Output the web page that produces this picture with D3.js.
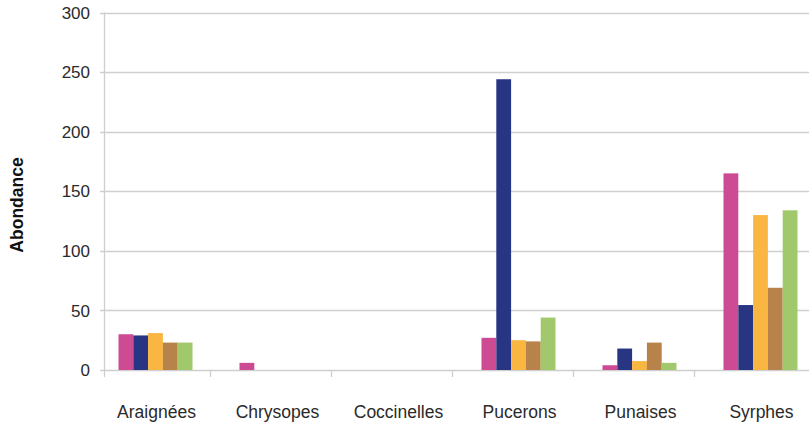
<!DOCTYPE html>
<html><head><meta charset="utf-8">
<script src="https://cdn.jsdelivr.net/npm/d3@7"></script>
<style>html,body{margin:0;padding:0;background:#fff;}svg{display:block;}</style>
</head><body><svg id="c" width="809" height="425"></svg>
<script>
const categories = ["Araignées","Chrysopes","Coccinelles","Pucerons","Punaises","Syrphes"];
const series1 = [30, 6, 0, 27, 4, 165];
const series2 = [29, 0, 0, 244, 18, 54.5];
const series3 = [31, 0, 0, 25, 7.5, 130];
const series4 = [23, 0, 0, 24, 23, 69];
const series5 = [23, 0, 0, 44, 6, 134];
const yTicks = [0, 50, 100, 150, 200, 250, 300];
const yLabel = "Abondance";
const colors = ["#CD4B93","#283582","#F9B641","#B8834A","#A1C96C"];

const seriesAll = [series1, series2, series3, series4, series5];
const svg = d3.select("#c");
const axisX = 104, right = 809;
const y = d3.scaleLinear().domain([0, 300]).range([370, 12.5]);
const x = d3.scaleBand().domain(categories).range([95, 821]).padding(0);
const inner = d3.scaleBand().domain(d3.range(seriesAll.length)).range([-37, 37]).padding(0);
const font = "'Liberation Sans', Arial, Helvetica, sans-serif";

// gridlines
svg.append("g").selectAll("line").data(yTicks).join("line")
  .attr("x1", axisX - 4).attr("x2", right)
  .attr("y1", d => Math.round(y(d)) + 0.5).attr("y2", d => Math.round(y(d)) + 0.5)
  .attr("stroke", "#cfcfcf").attr("stroke-width", 1.3);
// y axis line
svg.append("line").attr("x1", axisX + 0.5).attr("x2", axisX + 0.5)
  .attr("y1", y(300)).attr("y2", y(0) + 7).attr("stroke", "#cfcfcf").attr("stroke-width", 1.3);
// x ticks at band boundaries
svg.append("g").selectAll("line").data(categories.slice(1)).join("line")
  .attr("x1", d => Math.round(x(d) - 6) + 0.5).attr("x2", d => Math.round(x(d) - 6) + 0.5)
  .attr("y1", y(0)).attr("y2", y(0) + 7)
  .attr("stroke", "#cfcfcf").attr("stroke-width", 1.3);

// y tick labels
svg.append("g").selectAll("text").data(yTicks).join("text")
  .attr("x", 90).attr("y", d => y(d)).attr("dy", "0.36em")
  .attr("text-anchor", "end").attr("font-family", font).attr("font-size", 17)
  .attr("fill", "#2a2a2a").text(d => d);

// bars
const groups = svg.append("g").selectAll("g").data(categories).join("g")
  .attr("transform", d => `translate(${x(d) + x.bandwidth() / 2},0)`);
groups.selectAll("rect").data((d, i) => seriesAll.map((s, k) => ({k, v: s[i]})).filter(o => o.v > 0)).join("rect")
  .attr("x", o => inner(o.k)).attr("width", inner.bandwidth())
  .attr("y", o => y(o.v)).attr("height", o => y(0) - y(o.v))
  .attr("fill", o => colors[o.k]);

// x labels
svg.append("g").selectAll("text").data(categories).join("text")
  .attr("x", d => x(d) + x.bandwidth() / 2 + 1).attr("y", 418)
  .attr("text-anchor", "middle").attr("font-family", font).attr("font-size", 17.5)
  .attr("fill", "#2a2a2a").text(d => d);

// y axis title
svg.append("text").attr("transform", "translate(23,205) rotate(-90)")
  .attr("text-anchor", "middle").attr("font-family", font).attr("font-size", 17.5)
  .attr("font-weight", "bold").attr("fill", "#111").text(yLabel);
</script></body></html>
